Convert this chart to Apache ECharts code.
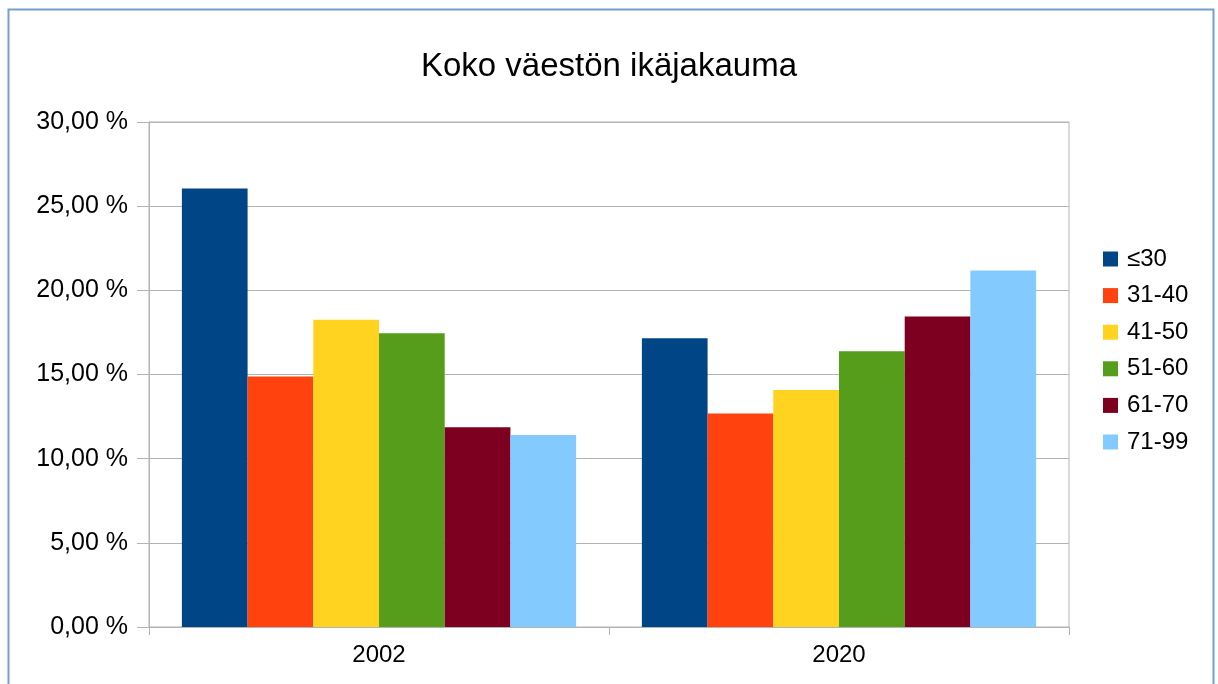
<!DOCTYPE html>
<html>
<head>
<meta charset="utf-8">
<script src="https://cdn.jsdelivr.net/npm/echarts@6/dist/echarts.min.js"></script>
<style>
  html, body { margin: 0; padding: 0; background: #fff; }
  #chart { width: 1218px; height: 684px; }
</style>
</head>
<body>
<div id="chart"></div>
<script>
// Koko väestön ikäjakauma — osuudet ikäryhmittäin (%)
const years = ['2002', '2020']
const groups = ['≤30', '31-40', '41-50', '51-60', '61-70', '71-99']
const shares = [
  [26.05, 17.15], // ≤30
  [14.88, 12.68], // 31-40
  [18.25, 14.08], // 41-50
  [17.45, 16.38], // 51-60
  [11.86, 18.45], // 61-70
  [11.41, 21.18], // 71-99
]
const colors = ['#004586', '#ff420e', '#ffd320', '#579d1c', '#7e0021', '#83caff']

const fmt = v => v.toFixed(2).replace('.', ',') + ' %'

const chart = echarts.init(document.getElementById('chart'), null, { renderer: 'canvas' })

chart.setOption({
  backgroundColor: '#fff',
  animation: false,
  color: colors,
  textStyle: { fontFamily: 'Liberation Sans, Arial, sans-serif' },
  graphic: [{
    type: 'rect',
    shape: { x: 8.5, y: 9.5, width: 1205, height: 700 },
    style: { fill: 'none', stroke: '#729fcf', lineWidth: 2 },
    silent: true,
  }],
  title: {
    text: 'Koko väestön ikäjakauma',
    left: 'center',
    top: 45,
    textStyle: { fontSize: 33, fontWeight: 'normal', color: '#000' },
  },
  legend: {
    orient: 'vertical',
    left: 1103,
    top: 247,
    padding: 0,
    itemWidth: 15,
    itemHeight: 15,
    itemGap: 12.6,
    itemStyle: { borderWidth: 0 },
    icon: 'rect',
    textStyle: { fontSize: 24, lineHeight: 24, color: '#000', padding: [0, 0, 0, 4] },
    data: groups,
  },
  grid: { left: 149, right: 149, top: 122, bottom: 57, show: true, borderColor: '#b3b3b3', borderWidth: 1 },
  xAxis: {
    type: 'category',
    data: years,
    axisLine: { lineStyle: { color: '#b3b3b3' } },
    axisTick: { show: true, length: 8, lineStyle: { color: '#b3b3b3' } },
    axisLabel: { fontSize: 24, color: '#000', margin: 16 },
  },
  yAxis: {
    type: 'value',
    min: 0,
    max: 30,
    interval: 5,
    axisLine: { show: true, lineStyle: { color: '#b3b3b3' } },
    axisTick: { show: true, length: 12, lineStyle: { color: '#b3b3b3' } },
    splitLine: { lineStyle: { color: '#b3b3b3' } },
    axisLabel: { fontSize: 25, color: '#000', margin: 21, formatter: fmt },
  },
  series: groups.map((g, i) => ({
    name: g,
    type: 'bar',
    data: shares[i],
    barGap: '0%',
    barCategoryGap: '14.3%',
    itemStyle: { color: colors[i] },
  })),
})
</script>
</body>
</html>
